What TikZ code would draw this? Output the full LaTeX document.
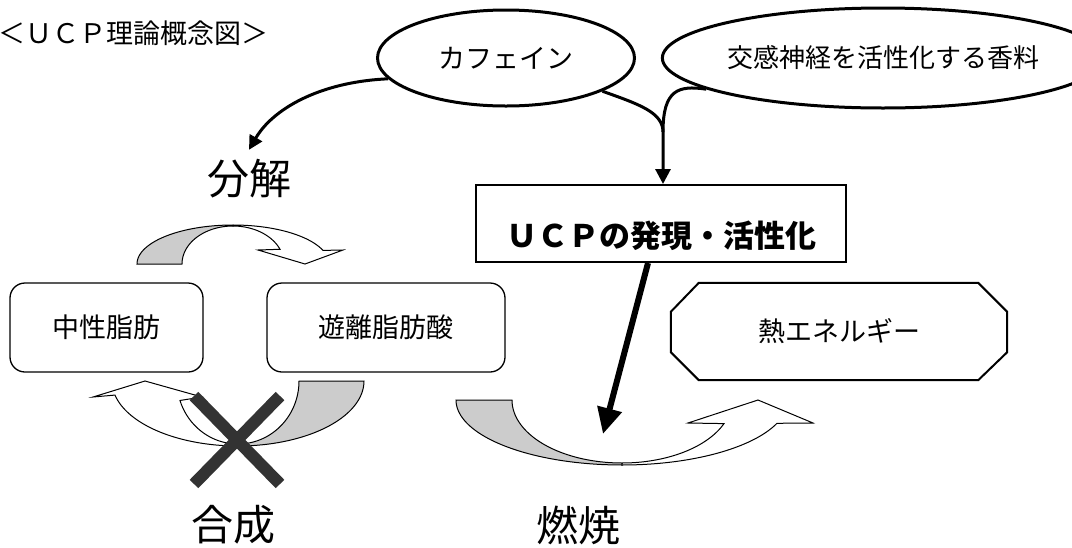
\documentclass[tikz,border=0pt]{standalone}
\usepackage{fontspec}
\newfontfamily\jp{Noto Sans CJK JP}
\usetikzlibrary{arrows.meta,calc,shapes.geometric}
\definecolor{tailgray}{HTML}{CCCCCC}
\definecolor{xgray}{HTML}{333333}
\begin{document}
\begin{tikzpicture}[x=1pt,y=-1pt,
  conn/.style={line width=3pt},
  ell/.style={ellipse, draw, line width=3pt, inner sep=0pt},
  rbox/.style={draw, line width=1.3pt, rounded corners=15pt, inner sep=0pt},
  blk/.style={draw, line width=1pt, line join=miter},
  lbl/.style={font=\jp\fontsize{42}{48}\selectfont, inner sep=0pt},
  txt/.style={font=\jp\fontsize{27}{32}\selectfont}
]
\useasboundingbox (0,0) rectangle (1072,547);

% title
\node[anchor=west, inner sep=0pt, txt] (title) at (-2,33) {＜ＵＣＰ理論概念図＞};

% ellipses
\node[ell, minimum width=257pt, minimum height=96pt, txt] (caf) at (506,58) {カフェイン};
\node[ell, minimum width=375pt, minimum height=100pt, font=\jp\fontsize{26}{30}\selectfont] (kou) at (883,58) {交感神経を活性化する香料};

% UCP box
\node[draw, line width=2pt, minimum width=370pt, inner sep=0pt, text height=62pt, text depth=15pt,
      anchor=south, font=\jp\bfseries\fontsize{31}{36}\selectfont] (ucp) at (661,263) {ＵＣＰの発現・活性化};

% boxes
\node[rbox, minimum width=193pt, minimum height=89pt, txt] (chu) at (106.5,327.5) {中性脂肪};
\node[rbox, minimum width=238pt, minimum height=89pt, txt] (yuri) at (386,327.5) {遊離脂肪酸};
\node[minimum width=336pt, minimum height=97pt, inner sep=0pt, txt] (heat) at (839,331.5) {熱エネルギー};
\draw[line width=2pt] ([xshift=28pt]heat.north west) -- ([xshift=-29pt]heat.north east)
  -- ([yshift=-29pt]heat.north east) -- ([yshift=28pt]heat.south east)
  -- ([xshift=-29pt]heat.south east) -- ([xshift=28pt]heat.south west)
  -- ([yshift=28pt]heat.south west) -- ([yshift=-29pt]heat.north west) -- cycle;

% big labels
\node[lbl, anchor=base, text height=36pt, inner ysep=8pt] (bunkai) at (249,194) {分解};
\node[lbl] (gosei) at (233,525) {合成};
\node[lbl] (nensho) at (578,525) {燃焼};

% connectors
\draw[conn, -{Triangle[length=14pt,width=14pt]}] (caf.190) .. controls (318,82) and (272,110) .. (bunkai.north);
\coordinate (m) at (663,132);
\draw[conn] (kou.190) .. controls (678,85) and (663,90) .. (m);
\draw[conn, -{Triangle[length=15pt,width=15pt]}] (caf.341) .. controls (638,104) and (663,112) .. (m) -- (m |- ucp.north);
\coordinate (burn) at (603,434);
\draw[line width=6pt, -{Triangle[length=26pt,width=24pt]}] ($(ucp.south)+(-13,0)$) -- (burn);

% decomposition arrow (top)
\filldraw[blk, fill=tailgray] plot[domain=180:270, samples=40, variable=\t] ({233+96*cos(\t)},{264+39*sin(\t)})
  -- plot[domain=270:180, samples=40, variable=\t] ({233+51*cos(\t)},{264+38*sin(\t)}) -- cycle;
\filldraw[blk, fill=white] plot[domain=270:339.6, samples=40, variable=\t] ({233+96*cos(\t)},{264+39*sin(\t)})
  -- (343,250) -- (305,264) -- (258,250)
  -- plot[domain=337.2:270, samples=40, variable=\t] ({233+51*cos(\t)},{264+38*sin(\t)}) -- cycle;

% burning arrow
\filldraw[blk, fill=tailgray] plot[domain=180:90, samples=40, variable=\t] ({622+166*cos(\t)},{400+65*sin(\t)})
  -- plot[domain=90:180, samples=40, variable=\t] ({622+110*cos(\t)},{400+63*sin(\t)}) -- cycle;
\filldraw[blk, fill=white] plot[domain=90:21, samples=40, variable=\t] ({622+166*cos(\t)},{400+65*sin(\t)})
  -- (813,423) -- (758,400) -- (688,423)
  -- plot[domain=22:90, samples=40, variable=\t] ({622+110*cos(\t)},{400+63*sin(\t)}) -- cycle;

% synthesis arrow
\filldraw[blk, fill=tailgray] plot[domain=0:90, samples=40, variable=\t] ({238+126*cos(\t)},{381+65*sin(\t)})
  -- plot[domain=90:0, samples=40, variable=\t] ({238+61*cos(\t)},{381+63*sin(\t)}) -- cycle;
\filldraw[blk, fill=white] plot[domain=90:167.5, samples=40, variable=\t] ({238+126*cos(\t)},{381+65*sin(\t)})
  -- (93,397) -- (145,381) -- (202,397)
  -- plot[domain=162:90, samples=40, variable=\t] ({238+61*cos(\t)},{381+63*sin(\t)}) -- cycle;

% cross
\draw[line width=12pt, xgray] (194,396) -- (280,484);
\draw[line width=12pt, xgray] (280,396) -- (194,484);
\end{tikzpicture}
\end{document}
